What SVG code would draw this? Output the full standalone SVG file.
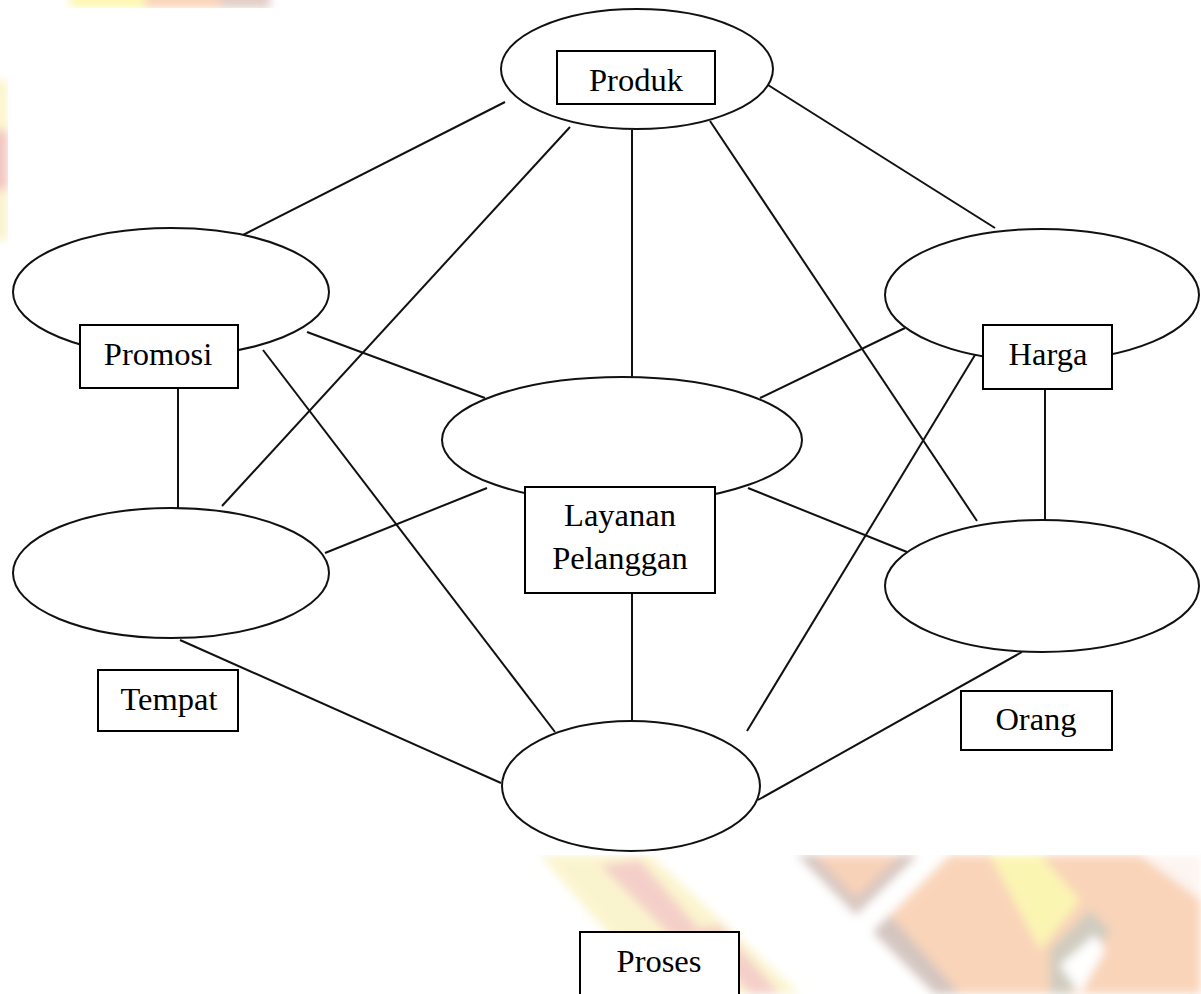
<svg xmlns="http://www.w3.org/2000/svg" width="1201" height="994" viewBox="0 0 1201 994">
  <defs>
    <style>
      .conn line { stroke: #111; stroke-width: 2; fill: none; }
      .oval { fill: #fff; stroke: #111; stroke-width: 2; }
      .box { fill: #fff; stroke: #000; stroke-width: 2; }
      .lbl { font-family: "Liberation Serif", "Times New Roman", serif; font-size: 32.5px; fill: #000; text-anchor: middle; }
    </style>
    <filter id="soft" x="-20%" y="-20%" width="140%" height="140%">
      <feGaussianBlur stdDeviation="5"/>
    </filter>
  </defs>

  <rect x="0" y="0" width="1201" height="994" fill="#fff"/>

  <g id="watermark" filter="url(#soft)" opacity="0.8">
    <!-- top strip -->
    <rect x="70" y="-10" width="80" height="18" fill="#fdf59c"/>
    <rect x="145" y="-10" width="90" height="18" fill="#fbc8a6"/>
    <rect x="220" y="-10" width="50" height="18" fill="#d9c0b6"/>
    <!-- left strip -->
    <rect x="-10" y="80" width="18" height="50" fill="#fbf2bf"/>
    <rect x="-10" y="130" width="18" height="60" fill="#efb6b0"/>
    <rect x="-10" y="190" width="18" height="50" fill="#f8efc0"/>
    <!-- bottom left band -->
    <polygon points="540,855 650,855 800,994 660,994" fill="#faf2c2"/>
    <polygon points="600,865 640,860 700,930 680,945" fill="#f2c4bc"/>
    <polygon points="690,930 720,925 780,994 750,994" fill="#f2c4bc"/>
    <!-- grey triangle -->
    <polygon points="797,855 918,855 856,915" fill="#cdb9b2"/>
    <polygon points="815,855 900,855 856,898" fill="#f6c7a8"/>
    <!-- orange area -->
    <polygon points="873,932 950,855 1201,855 1201,994 935,994" fill="#f8caa8"/>
    <polygon points="873,932 890,915 960,994 935,994" fill="#c9b7b0"/>
    <polygon points="990,855 1040,855 1080,900 1040,950" fill="#fbf3a0"/>
    <polygon points="1050,950 1090,910 1110,930 1070,994 1050,994" fill="#c5c0b0"/>
    <polygon points="1060,965 1095,935 1105,950 1080,994" fill="#fff"/>
    <polygon points="1140,855 1201,855 1201,900" fill="#fdf3ee"/>
  </g>

  <!-- white image area -->
  <rect x="8" y="8" width="1193" height="847" fill="#fff"/>

  <g id="connectors" class="conn">
    <line x1="505" y1="102" x2="243" y2="235"/>
    <line x1="570" y1="127" x2="222" y2="506"/>
    <line x1="632" y1="130" x2="632" y2="377"/>
    <line x1="710" y1="121" x2="977" y2="521"/>
    <line x1="768" y1="85" x2="995" y2="228"/>
    <line x1="307" y1="332" x2="485" y2="398"/>
    <line x1="263" y1="350" x2="555" y2="732"/>
    <line x1="178" y1="388" x2="178" y2="508"/>
    <line x1="905" y1="328" x2="760" y2="398"/>
    <line x1="978" y1="350" x2="747" y2="731"/>
    <line x1="1045" y1="389" x2="1045" y2="520"/>
    <line x1="487" y1="488" x2="325" y2="553"/>
    <line x1="748" y1="488" x2="907" y2="552"/>
    <line x1="632" y1="593" x2="632" y2="721"/>
    <line x1="180" y1="640" x2="501" y2="783"/>
    <line x1="1022" y1="652" x2="758" y2="800"/>
  </g>

  <g id="produk">
    <ellipse class="oval" cx="637" cy="69" rx="136" ry="60"/>
    <rect class="box" x="557" y="51" width="158" height="53"/>
    <text class="lbl" x="636" y="91">Produk</text>
  </g>

  <g id="promosi">
    <ellipse class="oval" cx="171" cy="292" rx="158" ry="64"/>
    <rect class="box" x="80" y="325" width="158" height="63"/>
    <text class="lbl" x="158" y="365">Promosi</text>
  </g>

  <g id="harga">
    <ellipse class="oval" cx="1042" cy="295" rx="157" ry="66"/>
    <rect class="box" x="983" y="325" width="129" height="64"/>
    <text class="lbl" x="1048" y="365">Harga</text>
  </g>

  <g id="layanan-pelanggan">
    <ellipse class="oval" cx="622" cy="440" rx="180" ry="63"/>
    <rect class="box" x="525" y="487" width="190" height="106"/>
    <text class="lbl" x="620" y="526">Layanan</text>
    <text class="lbl" x="620" y="569">Pelanggan</text>
  </g>

  <g id="tempat">
    <ellipse class="oval" cx="171" cy="573" rx="158" ry="65"/>
    <rect class="box" x="98" y="670" width="140" height="61"/>
    <text class="lbl" x="169" y="710">Tempat</text>
  </g>

  <g id="orang">
    <ellipse class="oval" cx="1042" cy="586" rx="157" ry="66"/>
    <rect class="box" x="961" y="691" width="151" height="59"/>
    <text class="lbl" x="1036" y="730">Orang</text>
  </g>

  <g id="proses">
    <ellipse class="oval" cx="631" cy="786" rx="129" ry="65"/>
    <rect class="box" x="580" y="932" width="159" height="70"/>
    <text class="lbl" x="659" y="972">Proses</text>
  </g>
</svg>
